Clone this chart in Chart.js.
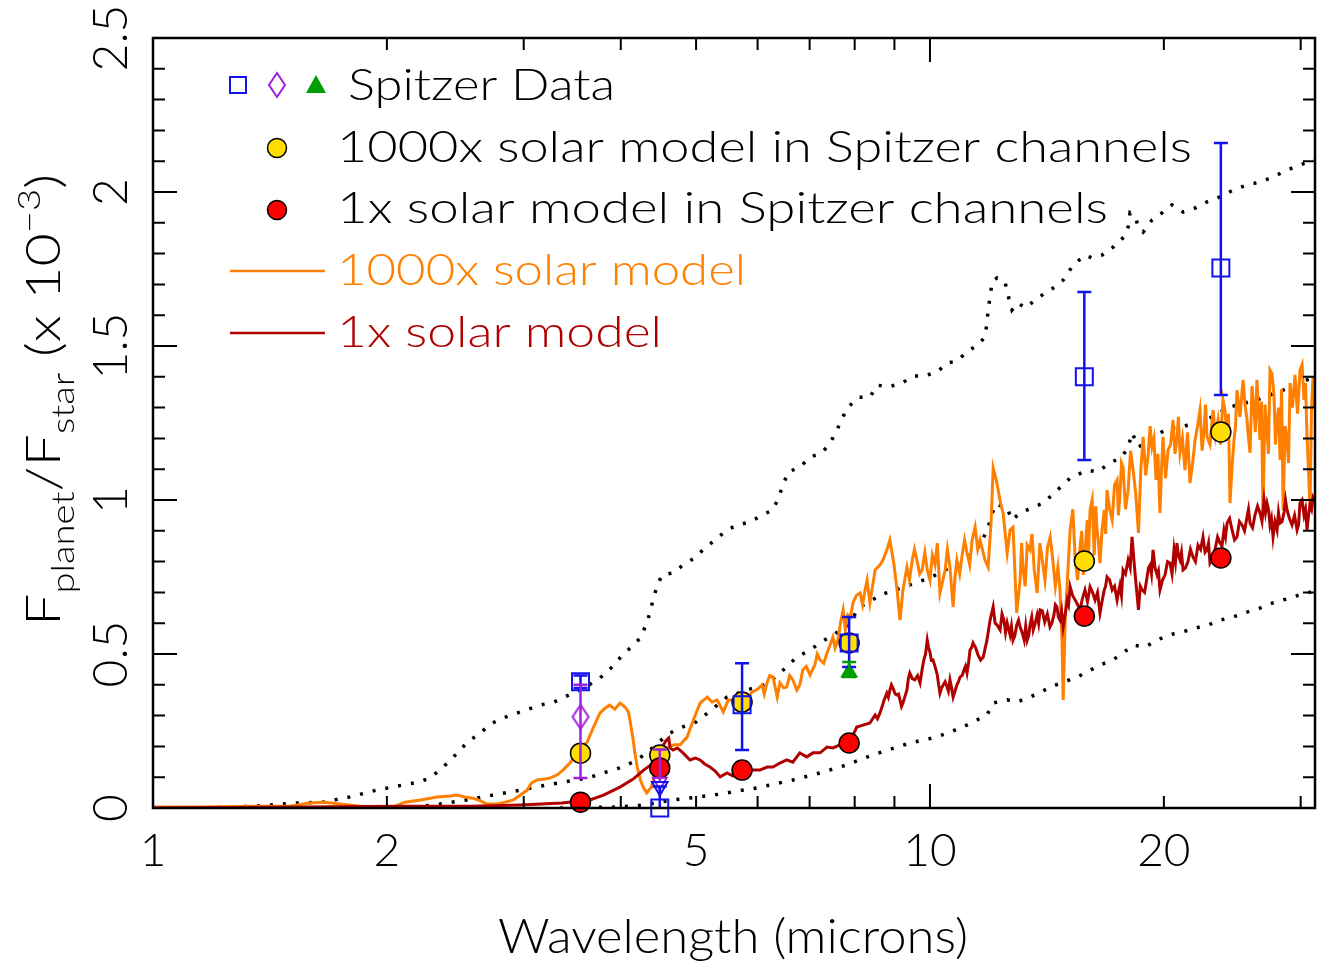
<!DOCTYPE html>
<html>
<head>
<meta charset="utf-8">
<title>Fplanet/Fstar - Spitzer</title>
<script src="https://cdn.jsdelivr.net/npm/chart.js@4.4.1/dist/chart.umd.min.js"></script>
<style>
  html, body { margin: 0; padding: 0; background: #fff; }
  #cadre { width: 1331px; height: 968px; }
</style>
</head>
<body>
<div id="cadre"><canvas id="graphique" width="1331" height="968"></canvas></div>
<script>
/* Modèle 1000x solaire (orange) */
const orangeWave = [1.0, 1.15, 1.37, 1.50, 1.59, 1.665, 1.74, 1.85, 1.96, 2.05,
  2.11, 2.21, 2.32, 2.41, 2.46, 2.52, 2.58, 2.64, 2.69, 2.77,
  2.84, 2.91, 2.97, 3.03, 3.07, 3.12, 3.19, 3.24, 3.31, 3.37,
  3.44, 3.49, 3.55, 3.62, 3.69, 3.76, 3.82, 3.87, 3.93, 3.99,
  4.05, 4.09, 4.11, 4.15, 4.17, 4.20, 4.24, 4.28, 4.32, 4.38,
  4.45, 4.53, 4.60, 4.69, 4.77, 4.87, 4.96, 5.06, 5.17, 5.24,
  5.32, 5.42, 5.50, 5.58, 5.69, 5.81, 5.90, 5.98, 6.08, 6.17,
  6.28, 6.36, 6.41, 6.54, 6.66, 6.74, 6.86, 7.01, 7.11, 7.22,
  7.37, 7.50, 7.61, 7.73, 7.84, 7.96, 8.13, 8.25, 8.30, 8.37,
  8.50, 8.62, 8.70, 8.80, 8.88, 8.99, 9.07, 9.15, 9.23, 9.34,
  9.49, 9.62, 9.77, 9.92, 10.07, 10.22, 10.30, 10.46, 10.61, 10.71,
  10.83, 11.00, 11.16, 11.33, 11.43, 11.60, 11.77, 11.88, 11.99, 12.06,
  12.17, 12.24, 12.34, 12.42, 12.57, 12.68, 12.79, 12.93, 13.06, 13.18,
  13.34, 13.45, 13.62, 13.74, 13.95, 14.17, 14.39, 14.61, 14.70, 14.79,
  14.84, 14.93, 15.15, 15.38, 15.60, 15.75, 15.94, 16.07, 16.27, 16.41,
  16.55, 16.76, 16.90, 17.16, 17.41, 17.56, 17.72, 17.99, 18.26, 18.55,
  18.81, 19.09, 19.31, 19.54, 19.77, 19.95, 20.25, 20.55, 20.79, 20.98,
  21.29, 21.61, 21.94, 22.26, 22.53, 22.73, 23.14, 23.48, 23.83, 24.12,
  24.33, 24.62, 24.84, 25.29, 25.59, 25.82, 26.12, 26.35, 26.59, 26.83,
  27.15, 27.39, 27.72, 27.97, 28.22, 28.48, 28.81, 29.07, 29.50, 29.94,
  30.30, 30.57, 30.84, 31.12, 31.4];
const orangeVal = [0.003, 0.003, 0.006, 0.006, 0.016, 0.019, 0.013, 0.006, 0.003, 0.006,
  0.019, 0.026, 0.036, 0.039, 0.042, 0.036, 0.032, 0.023, 0.013, 0.013,
  0.019, 0.026, 0.042, 0.058, 0.081, 0.091, 0.094, 0.097, 0.107, 0.123,
  0.146, 0.166, 0.192, 0.214, 0.263, 0.308, 0.325, 0.334, 0.321, 0.341,
  0.328, 0.312, 0.286, 0.221, 0.179, 0.133, 0.091, 0.065, 0.049, 0.068,
  0.133, 0.172, 0.198, 0.205, 0.205, 0.231, 0.286, 0.341, 0.360, 0.344,
  0.351, 0.312, 0.351, 0.351, 0.341, 0.351, 0.377, 0.383, 0.399, 0.406,
  0.425, 0.360, 0.406, 0.393, 0.416, 0.383, 0.448, 0.432, 0.464, 0.481,
  0.503, 0.555, 0.545, 0.643, 0.627, 0.666, 0.698, 0.708, 0.740, 0.666,
  0.773, 0.789, 0.805, 0.838, 0.870, 0.789, 0.708, 0.610, 0.708, 0.782,
  0.805, 0.805, 0.773, 0.773, 0.821, 0.860, 0.698, 0.773, 0.782, 0.653,
  0.805, 0.821, 0.828, 0.870, 0.912, 0.870, 0.805, 0.782, 0.935, 1.104,
  1.065, 1.032, 0.984, 0.958, 0.828, 0.903, 0.912, 0.633, 0.740, 0.773,
  0.854, 0.838, 0.773, 0.698, 0.805, 0.847, 0.805, 0.782, 0.708, 0.545,
  0.351, 0.610, 0.903, 0.805, 0.847, 0.757, 0.935, 0.968, 0.821, 0.903,
  0.795, 0.968, 1.032, 0.935, 1.065, 1.016, 1.107, 1.032, 1.097, 0.893,
  1.205, 1.146, 1.172, 1.065, 0.958, 1.205, 1.162, 1.260, 1.195, 1.153,
  1.097, 1.055, 1.195, 1.292, 1.227, 1.205, 1.292, 1.260, 1.325, 1.195,
  0.990, 1.195, 1.357, 1.390, 1.260, 1.153, 1.292, 1.390, 1.195, 0.945,
  1.227, 1.422, 1.341, 1.260, 1.130, 0.968, 1.195, 1.380, 1.406, 1.422,
  1.325, 1.205, 0.968, 1.399, 1.40];
/* points intermédiaires du bruit (orange) */
const orangeWave2 = [6.12, 6.22, 6.48, 6.60, 6.80, 6.93, 7.06, 7.16, 7.30, 7.44,
  7.55, 7.67, 7.78, 7.90, 8.04, 8.19, 9.41, 9.55, 9.70, 9.85,
  10.0, 10.15, 10.53, 10.77, 10.92, 11.08, 11.25, 11.52, 13.12, 13.26,
  13.53, 13.85, 14.06, 14.28, 14.50, 15.27, 15.49, 15.68, 15.85, 16.00,
  16.17, 16.34, 16.48, 16.65, 16.83, 17.03, 17.28, 17.48, 17.64, 17.85,
  18.12, 18.40, 18.68, 18.95, 19.20, 19.42, 19.65, 19.86, 20.10, 20.40,
  20.67, 20.88, 21.13, 21.45, 21.78, 22.10, 22.40, 22.63, 22.93, 23.31,
  23.65, 23.98, 24.22, 24.47, 24.73, 25.06, 25.44, 25.70, 25.97, 26.23,
  26.47, 26.71, 26.99, 27.27, 27.55, 27.84, 28.10, 28.35, 28.65, 28.94,
  29.28, 29.72, 30.12, 30.43, 30.70, 30.98, 31.25];
const orangeVal2 = [0.37, 0.43, 0.39, 0.43, 0.40, 0.46, 0.45, 0.50, 0.47, 0.53,
  0.52, 0.60, 0.58, 0.62, 0.69, 0.66, 0.74, 0.84, 0.76, 0.83,
  0.74, 0.79, 0.84, 0.75, 0.76, 0.87, 0.79, 0.84, 0.86, 0.72,
  0.89, 0.86, 0.74, 0.88, 0.72, 0.97, 0.74, 0.90, 0.85, 0.83,
  1.00, 0.98, 0.86, 0.90, 0.89, 0.97, 1.05, 0.95, 1.12, 0.97,
  1.16, 1.02, 1.10, 1.08, 1.24, 1.20, 1.15, 1.10, 1.07, 1.18,
  1.15, 1.27, 1.20, 1.22, 1.12, 1.24, 1.16, 1.31, 1.18, 1.21,
  1.18, 1.29, 1.28, 1.10, 1.24, 1.27, 1.31, 1.20, 1.37, 1.22,
  1.29, 1.32, 1.31, 1.15, 1.41, 1.18, 1.30, 1.36, 1.24, 1.12,
  1.30, 1.28, 1.44, 1.38, 1.10, 1.30, 1.30];

/* Modèle 1x solaire (rouge foncé) */
const redWave = [1.0, 1.55, 2.08, 2.56, 2.97, 3.36, 3.65, 3.80, 3.99, 4.15,
  4.28, 4.41, 4.49, 4.57, 4.61, 4.63, 4.67, 4.73, 4.81, 4.91,
  4.99, 5.06, 5.13, 5.21, 5.29, 5.37, 5.48, 5.58, 5.69, 5.81,
  5.92, 6.04, 6.17, 6.28, 6.41, 6.54, 6.66, 6.80, 6.94, 7.07,
  7.22, 7.37, 7.50, 7.66, 7.81, 7.94, 8.05, 8.20, 8.37, 8.50,
  8.62, 8.73, 8.80, 8.88, 8.96, 9.07, 9.15, 9.23, 9.34, 9.42,
  9.56, 9.71, 9.82, 9.92, 10.00, 10.09, 10.22, 10.30, 10.40, 10.52,
  10.61, 10.71, 10.83, 10.93, 11.06, 11.16, 11.26, 11.36, 11.53, 11.71,
  11.84, 11.95, 12.06, 12.20, 12.31, 12.45, 12.57, 12.68, 12.79, 12.93,
  13.06, 13.22, 13.34, 13.45, 13.58, 13.74, 13.86, 14.05, 14.27, 14.44,
  14.57, 14.70, 14.84, 15.02, 15.15, 15.38, 15.60, 15.83, 16.07, 16.31,
  16.55, 16.76, 16.90, 17.16, 17.41, 17.56, 17.72, 17.99, 18.20, 18.37,
  18.55, 18.75, 19.03, 19.20, 19.37, 19.60, 19.77, 20.07, 20.37, 20.61,
  20.79, 20.98, 21.17, 21.48, 21.80, 22.13, 22.46, 22.73, 22.93, 23.27,
  23.62, 23.90, 24.12, 24.48, 24.84, 25.21, 25.59, 25.82, 26.20, 26.59,
  26.91, 27.15, 27.39, 27.64, 27.97, 28.22, 28.56, 28.81, 29.24, 29.68,
  29.94, 30.30, 30.57, 30.84, 31.12, 31.3];
const redVal = [0.0, 0.003, 0.006, 0.006, 0.010, 0.016, 0.026, 0.042, 0.068, 0.094,
  0.123, 0.146, 0.182, 0.218, 0.227, 0.195, 0.188, 0.195, 0.179, 0.156,
  0.162, 0.156, 0.143, 0.133, 0.120, 0.101, 0.114, 0.104, 0.117, 0.120,
  0.123, 0.123, 0.133, 0.133, 0.146, 0.156, 0.149, 0.179, 0.166, 0.179,
  0.179, 0.198, 0.195, 0.205, 0.214, 0.231, 0.263, 0.269, 0.276, 0.302,
  0.308, 0.351, 0.373, 0.383, 0.390, 0.367, 0.351, 0.341, 0.383, 0.438,
  0.416, 0.406, 0.481, 0.545, 0.506, 0.481, 0.432, 0.373, 0.399, 0.393,
  0.416, 0.360, 0.399, 0.425, 0.448, 0.438, 0.513, 0.536, 0.497, 0.490,
  0.545, 0.610, 0.653, 0.594, 0.578, 0.610, 0.601, 0.562, 0.545, 0.594,
  0.588, 0.545, 0.545, 0.594, 0.578, 0.627, 0.643, 0.604, 0.588, 0.627,
  0.653, 0.610, 0.588, 0.675, 0.718, 0.675, 0.643, 0.708, 0.718, 0.675,
  0.633, 0.708, 0.750, 0.708, 0.675, 0.724, 0.773, 0.805, 0.880, 0.757,
  0.643, 0.708, 0.750, 0.789, 0.838, 0.757, 0.708, 0.757, 0.795, 0.838,
  0.860, 0.805, 0.773, 0.799, 0.815, 0.854, 0.880, 0.838, 0.795, 0.838,
  0.860, 0.903, 0.925, 0.903, 0.880, 0.919, 0.945, 0.925, 0.951, 0.958,
  1.000, 0.990, 0.919, 0.880, 0.903, 0.925, 0.961, 0.968, 0.919, 0.903,
  0.990, 0.951, 0.903, 0.984, 1.010, 1.0];
/* points intermédiaires du bruit (rouge) */
const redWave2 = [8.56, 8.68, 8.84, 8.92, 9.02, 9.11, 9.19, 9.28, 9.38, 9.49,
  9.64, 9.77, 9.87, 9.96, 10.04, 10.15, 10.26, 10.35, 10.46, 10.56,
  10.66, 10.77, 10.88, 11.0, 11.11, 11.21, 11.31, 11.45, 11.62, 11.78,
  12.13, 12.38, 12.51, 12.73, 12.86, 13.0, 13.14, 13.28, 13.40, 13.52,
  13.66, 13.80, 13.95, 14.16, 14.35, 14.50, 14.63, 14.77, 14.93, 15.08,
  15.26, 15.49, 15.71, 15.95, 16.19, 16.43, 16.65, 16.83, 17.03, 17.28,
  17.48, 17.64, 17.85, 18.10, 18.28, 18.46, 18.65, 18.89, 19.11, 19.28,
  19.48, 19.68, 19.92, 20.22, 20.49, 20.70, 20.88, 21.07, 21.32, 21.64,
  21.96, 22.30, 22.60, 22.83, 23.10, 23.45, 23.76, 24.01, 24.30, 24.66,
  25.02, 25.40, 25.70, 26.01, 26.40, 26.75, 27.03, 27.27, 27.51, 27.80,
  28.09, 28.39, 28.68, 29.02, 29.46, 29.81, 30.12, 30.43, 30.70, 30.98];
const redVal2 = [0.29, 0.33, 0.36, 0.40, 0.37, 0.37, 0.33, 0.36, 0.42, 0.42,
  0.43, 0.45, 0.50, 0.52, 0.48, 0.46, 0.40, 0.39, 0.41, 0.38,
  0.39, 0.38, 0.41, 0.43, 0.46, 0.47, 0.52, 0.52, 0.48, 0.52,
  0.60, 0.63, 0.57, 0.59, 0.56, 0.61, 0.57, 0.59, 0.56, 0.62,
  0.60, 0.60, 0.64, 0.63, 0.60, 0.66, 0.62, 0.64, 0.63, 0.66,
  0.69, 0.66, 0.68, 0.67, 0.70, 0.70, 0.67, 0.72, 0.74, 0.72,
  0.70, 0.69, 0.76, 0.78, 0.82, 0.70, 0.72, 0.70, 0.78, 0.76,
  0.78, 0.77, 0.74, 0.80, 0.76, 0.80, 0.82, 0.83, 0.78, 0.84,
  0.80, 0.84, 0.83, 0.86, 0.81, 0.88, 0.85, 0.88, 0.94, 0.87,
  0.93, 0.90, 0.97, 0.91, 0.98, 0.93, 0.96, 0.97, 0.94, 0.93,
  0.96, 0.93, 1.00, 0.94, 0.95, 0.92, 1.00, 0.97, 0.95, 0.97];

/* Courbes pointillées */
const dotWaveA = [1.0, 1.149, 1.353, 1.53, 1.655, 1.793, 1.94, 2.10, 2.20, 2.27,
  2.35, 2.45, 2.54, 2.64, 2.72, 2.82, 2.94, 3.15, 3.28, 3.41,
  3.59, 3.76, 3.90, 3.99, 4.11, 4.24, 4.32, 4.36, 4.40, 4.45,
  4.52, 4.67, 4.81, 4.98, 5.13, 5.29, 5.48, 5.66, 5.87, 6.08,
  6.28, 6.38, 6.47, 6.57, 6.80, 7.01, 7.26, 7.44, 7.59, 7.71,
  7.85, 8.10, 8.37, 8.55, 8.85, 9.21, 9.52, 9.85, 10.22, 10.52,
  10.83, 11.16, 11.53, 11.77, 11.84, 11.88, 11.95, 12.02, 12.20, 12.49,
  12.60, 12.75, 12.98, 13.26, 13.66, 14.06, 14.49, 14.84, 15.29, 15.83,
  16.17, 16.65, 17.21, 17.77, 17.99, 18.09, 18.37, 18.55, 18.81, 19.31,
  19.89, 20.49, 21.17, 21.94, 22.73, 23.62, 24.55, 25.59, 26.59, 27.64,
  28.81, 29.94, 31.30];
const dotValA = [0.0, 0.0, 0.006, 0.016, 0.019, 0.036, 0.058, 0.075, 0.084, 0.097,
  0.127, 0.172, 0.214, 0.244, 0.273, 0.292, 0.308, 0.334, 0.344, 0.364,
  0.390, 0.422, 0.458, 0.487, 0.519, 0.552, 0.601, 0.633, 0.675, 0.718,
  0.757, 0.763, 0.789, 0.812, 0.844, 0.870, 0.903, 0.919, 0.929, 0.951,
  0.968, 1.006, 1.049, 1.091, 1.107, 1.139, 1.153, 1.185, 1.227, 1.266,
  1.302, 1.334, 1.334, 1.373, 1.367, 1.380, 1.403, 1.403, 1.416, 1.445,
  1.451, 1.481, 1.504, 1.529, 1.575, 1.617, 1.659, 1.708, 1.721, 1.708,
  1.666, 1.617, 1.640, 1.623, 1.649, 1.672, 1.692, 1.714, 1.763, 1.795,
  1.786, 1.795, 1.821, 1.854, 1.886, 1.932, 1.919, 1.886, 1.870, 1.909,
  1.932, 1.958, 1.935, 1.948, 1.968, 1.984, 2.006, 2.023, 2.032, 2.049,
  2.071, 2.088, 2.104];

const dotWaveB = [1.0, 1.546, 2.18, 2.34, 2.53, 2.74, 2.97, 3.15, 3.37, 3.62,
  3.80, 4.02, 4.20, 4.36, 4.60, 4.77, 5.00, 5.17, 5.48, 5.81,
  6.17, 6.41, 6.74, 7.01, 7.22, 7.50, 7.80, 8.13, 8.43, 8.62,
  8.96, 9.34, 10.00, 10.71, 11.50, 11.84, 12.13, 12.57, 12.75, 13.06,
  13.99, 15.15, 15.94, 16.41, 17.05, 17.67, 17.99, 18.20, 18.55, 19.03,
  19.60, 20.25, 20.98, 21.80, 22.73, 23.48, 24.33, 26.35, 28.48, 30.57, 31.30];
const dotValB = [0.0, 0.0, 0.003, 0.013, 0.026, 0.042, 0.058, 0.071, 0.084, 0.097,
  0.114, 0.133, 0.156, 0.188, 0.240, 0.260, 0.279, 0.308, 0.360, 0.383,
  0.403, 0.438, 0.490, 0.513, 0.536, 0.562, 0.588, 0.653, 0.675, 0.692,
  0.705, 0.721, 0.747, 0.786, 0.841, 0.899, 0.987, 0.974, 0.935, 0.958,
  0.990, 1.071, 1.097, 1.091, 1.120, 1.140, 1.172, 1.218, 1.172, 1.188,
  1.211, 1.234, 1.234, 1.250, 1.260, 1.282, 1.302, 1.325, 1.357, 1.390, 1.399];

const dotWaveC = [3.34, 3.96, 4.29, 4.67, 5.27, 5.98, 6.66, 7.22, 7.81, 8.43,
  9.42, 10.22, 11.03, 11.84, 12.06, 12.57, 12.93, 13.45, 14.40, 15.47,
  16.55, 17.20, 17.72, 18.26, 18.92, 19.60, 20.30, 21.10, 21.94, 22.80,
  23.62, 24.55, 25.59, 26.59, 27.64, 28.81, 29.94, 31.30];
const dotValC = [0.0, 0.003, 0.010, 0.026, 0.042, 0.065, 0.091, 0.114, 0.140, 0.172,
  0.211, 0.231, 0.263, 0.302, 0.341, 0.351, 0.344, 0.360, 0.396, 0.425,
  0.464, 0.481, 0.503, 0.529, 0.523, 0.545, 0.562, 0.571, 0.584, 0.594,
  0.610, 0.620, 0.636, 0.649, 0.666, 0.679, 0.692, 0.705];

/* Canaux Spitzer */
const chWave = [3.55, 4.49, 5.73, 7.87, 15.8, 23.68];
const yellowVal = [0.178, 0.172, 0.344, 0.536, 0.802, 1.221];
const redDotVal = [0.019, 0.13, 0.123, 0.211, 0.623, 0.812];
const squareVal = [0.41, 0.0, 0.335, 0.536, 1.40, 1.753];
const squareLo = [0.39, 0.0, 0.188, 0.458, 1.13, 1.341];
const squareHi = [0.43, 0.07, 0.47, 0.62, 1.675, 2.159];
const diaWave = [3.55];
const diaVal = [0.296];
const diaLo = [0.097];
const diaHi = [0.40];
const limWave = [4.49];
const limBlueVal = [0.07];
const limPurpleVal = [0.085];
const limPurpleHi = [0.19];
const triWave = [7.87];
const triVal = [0.44];
const triLo = [0.425];
const triHi = [0.474];

/* Axes */
const xMin = 1, xMax = 31.3, yMin = 0, yMax = 2.5;
const xTickLabels = [1, 2, 5, 10, 20];
const xTicks = [1, 2, 3, 4, 5, 6, 7, 8, 9, 10, 20, 30];
const yTickLabels = ['0', '0.5', '1', '1.5', '2', '2.5'];

const ORANGE = '#ff8000';
const ROUGE = '#b00000';
const BLEU = '#1212f0';
const VIOLET = '#a020e0';
const VERT = '#009e00';
const POLICE = 'Lato, "DejaVu Sans", sans-serif';
const GRAISSE = '300';

const xy = (w, v) => w.map((x, i) => ({x, y: v[i]}));
const fusion = (w1, v1, w2, v2) => xy(w1, v1).concat(xy(w2, v2)).sort((a, b) => a.x - b.x);

/* Symbole losange pour les données violettes */
const losange = document.createElement('canvas');
losange.width = 20; losange.height = 28;
(function() {
  const c = losange.getContext('2d');
  c.strokeStyle = VIOLET; c.lineWidth = 2;
  c.beginPath(); c.moveTo(10, 2); c.lineTo(18, 14); c.lineTo(10, 26); c.lineTo(2, 14); c.closePath(); c.stroke();
})();

const texte = function(ctx, str, x, y, largeur, taille, color, centre) {
  ctx.save();
  ctx.font = `${GRAISSE} ${taille}px ${POLICE}`;
  const m = ctx.measureText(str).width;
  const s = largeur ? largeur / m : 1;
  ctx.translate(x, y);
  ctx.scale(s, 1);
  ctx.fillStyle = color;
  ctx.textAlign = 'left';
  ctx.textBaseline = 'alphabetic';
  ctx.fillText(str, centre ? -m / 2 : 0, 0);
  ctx.restore();
};

const barre = function(ctx, xs, ys, x, lo, hi, color, capBas) {
  const px = xs.getPixelForValue(x);
  const y1 = ys.getPixelForValue(lo), y2 = ys.getPixelForValue(hi);
  ctx.save();
  ctx.strokeStyle = color; ctx.lineWidth = 2.5;
  ctx.beginPath();
  ctx.moveTo(px, y1); ctx.lineTo(px, y2);
  ctx.moveTo(px - 7, y2); ctx.lineTo(px + 7, y2);
  if (capBas) { ctx.moveTo(px - 7, y1); ctx.lineTo(px + 7, y1); }
  ctx.stroke();
  ctx.restore();
};

const barresErreur = {
  id: 'barresErreur',
  afterDatasetsDraw(chart) {
    const ctx = chart.ctx, xs = chart.scales.x, ys = chart.scales.y;
    chWave.forEach((w, i) => barre(ctx, xs, ys, w, squareLo[i], squareHi[i], BLEU, i !== 1));
    diaWave.forEach((w, i) => barre(ctx, xs, ys, w, diaLo[i], diaHi[i], VIOLET, true));
    limWave.forEach((w, i) => barre(ctx, xs, ys, w, limPurpleVal[i], limPurpleHi[i], VIOLET, false));
    triWave.forEach((w, i) => barre(ctx, xs, ys, w, triLo[i], triHi[i], VERT, true));
  }
};

const cadreAxes = {
  id: 'cadreAxes',
  afterDraw(chart) {
    const ctx = chart.ctx, a = chart.chartArea, xs = chart.scales.x, ys = chart.scales.y;
    ctx.save();
    // graduations intérieures
    ctx.strokeStyle = '#000'; ctx.lineWidth = 2;
    ctx.beginPath();
    for (let k = 0; k <= 25; k++) {
      const y = ys.getPixelForValue(k / 10);
      const l = k % 5 === 0 ? 24 : 12;
      ctx.moveTo(a.left, y); ctx.lineTo(a.left + l, y);
      ctx.moveTo(a.right, y); ctx.lineTo(a.right - l, y);
    }
    xTicks.forEach(t => {
      const x = xs.getPixelForValue(t);
      const l = (t === 1 || t === 10) ? 24 : 12;
      ctx.moveTo(x, a.bottom); ctx.lineTo(x, a.bottom - l);
      ctx.moveTo(x, a.top); ctx.lineTo(x, a.top + l);
    });
    ctx.stroke();
    ctx.lineWidth = 2.5;
    ctx.strokeRect(a.left, a.top, a.right - a.left, a.bottom - a.top);

    // étiquettes X
    xTickLabels.forEach(t => {
      texte(ctx, String(t), xs.getPixelForValue(t), 866, 0, 46, '#000', true);
    });
    texte(ctx, 'Wavelength (microns)', 733, 953, 470, 48, '#000', true);

    // étiquettes Y (tournées)
    yTickLabels.forEach(t => {
      const y = ys.getPixelForValue(parseFloat(t));
      ctx.save();
      ctx.translate(127, y);
      ctx.rotate(-Math.PI / 2);
      texte(ctx, t, 0, 0, 0, 48, '#000', true);
      ctx.restore();
    });

    // titre Y : F_planet / F_star (x 10^-3)
    const morceaux = [
      ['F', 48, 0], ['planet', 32, 14], ['/F', 48, 0], ['star', 32, 14],
      [' (x 10', 48, 0], ['\u22123', 32, -20], [')', 48, 0]
    ];
    let total = 0;
    morceaux.forEach(m => { ctx.font = `${GRAISSE} ${m[1]}px ${POLICE}`; total += ctx.measureText(m[0]).width; });
    const ech = 452 / total;
    ctx.save();
    ctx.translate(60, 626);
    ctx.rotate(-Math.PI / 2);
    ctx.scale(ech, 1);
    ctx.fillStyle = '#000';
    let pos = 0;
    morceaux.forEach(m => {
      ctx.font = `${GRAISSE} ${m[1]}px ${POLICE}`;
      ctx.fillText(m[0], pos, m[2]);
      pos += ctx.measureText(m[0]).width;
    });
    ctx.restore();

    // légende
    ctx.lineWidth = 2;
    ctx.strokeStyle = BLEU;
    ctx.strokeRect(230, 77, 16, 16);
    ctx.drawImage(losange, 267, 71);
    ctx.fillStyle = VERT;
    ctx.beginPath(); ctx.moveTo(316, 75); ctx.lineTo(326, 93); ctx.lineTo(306, 93); ctx.closePath(); ctx.fill();
    texte(ctx, 'Spitzer Data', 348, 100, 267, 43, '#000');

    [[148, '#ffdd00'], [210, '#ff0000']].forEach(r => {
      ctx.beginPath(); ctx.arc(277, r[0], 9.5, 0, 2 * Math.PI);
      ctx.fillStyle = r[1]; ctx.fill();
      ctx.lineWidth = 1.5; ctx.strokeStyle = '#000'; ctx.stroke();
    });
    texte(ctx, '1000x solar model in Spitzer channels', 337, 162, 855, 43, '#000');
    texte(ctx, '1x solar model in Spitzer channels', 337, 223, 771, 43, '#000');

    ctx.lineWidth = 2.5;
    ctx.strokeStyle = ORANGE;
    ctx.beginPath(); ctx.moveTo(230, 271); ctx.lineTo(325, 271); ctx.stroke();
    ctx.strokeStyle = ROUGE;
    ctx.beginPath(); ctx.moveTo(230, 333); ctx.lineTo(325, 333); ctx.stroke();
    texte(ctx, '1000x solar model', 337, 285, 409, 43, ORANGE);
    texte(ctx, '1x solar model', 337, 347, 325, 43, ROUGE);
    ctx.restore();
  }
};

const pointille = (w, v) => ({
  data: xy(w, v), showLine: true, borderColor: '#000', borderWidth: 3.5,
  borderDash: [3, 10], pointRadius: 0, order: 10
});

const datasets = [
  pointille(dotWaveA, dotValA),
  pointille(dotWaveB, dotValB),
  pointille(dotWaveC, dotValC),
  { label: '1000x solar model', data: fusion(orangeWave, orangeVal, orangeWave2, orangeVal2), showLine: true,
    borderColor: ORANGE, borderWidth: 3, pointRadius: 0, order: 8 },
  { label: '1x solar model', data: fusion(redWave, redVal, redWave2, redVal2), showLine: true,
    borderColor: ROUGE, borderWidth: 3, pointRadius: 0, order: 7 },
  { label: '1000x solar model in Spitzer channels', data: xy(chWave, yellowVal),
    pointStyle: 'circle', pointRadius: 10, backgroundColor: '#ffdd00',
    borderColor: '#000', borderWidth: 1.5, order: 4, clip: false },
  { label: '1x solar model in Spitzer channels', data: xy(chWave, redDotVal),
    pointStyle: 'circle', pointRadius: 10, backgroundColor: '#ff0000',
    borderColor: '#000', borderWidth: 1.5, order: 3, clip: false },
  { label: 'Spitzer Data', data: xy(chWave, squareVal), pointStyle: 'rect',
    pointRadius: 12, backgroundColor: 'rgba(0,0,0,0)', borderColor: BLEU,
    borderWidth: 2, order: 1, clip: false },
  { data: xy(diaWave, diaVal), pointStyle: losange, order: 1, clip: false },
  { data: xy(limWave, limBlueVal), pointStyle: 'triangle', rotation: 180,
    pointRadius: 9, backgroundColor: 'rgba(0,0,0,0)', borderColor: BLEU,
    borderWidth: 2, order: 1, clip: false },
  { data: xy(limWave, limPurpleVal), pointStyle: 'triangle', rotation: 180,
    pointRadius: 8, backgroundColor: 'rgba(0,0,0,0)', borderColor: VIOLET,
    borderWidth: 2, order: 1, clip: false },
  { data: xy(triWave, triVal), pointStyle: 'triangle', pointRadius: 9.5,
    backgroundColor: VERT, borderColor: VERT, borderWidth: 1, order: 1, clip: false }
];

const ctx = document.getElementById('graphique').getContext('2d');
const graphique = new Chart(ctx, {
  type: 'scatter',
  data: { datasets },
  options: {
    responsive: false,
    devicePixelRatio: 1,
    animation: false,
    layout: { padding: { left: 153, right: 16, top: 38, bottom: 160 } },
    plugins: { legend: { display: false }, tooltip: { enabled: false }, title: { display: false } },
    scales: {
      x: { type: 'logarithmic', min: xMin, max: xMax, display: false },
      y: { type: 'linear', min: yMin, max: yMax, display: false }
    }
  },
  plugins: [barresErreur, cadreAxes]
});
</script>
</body>
</html>
